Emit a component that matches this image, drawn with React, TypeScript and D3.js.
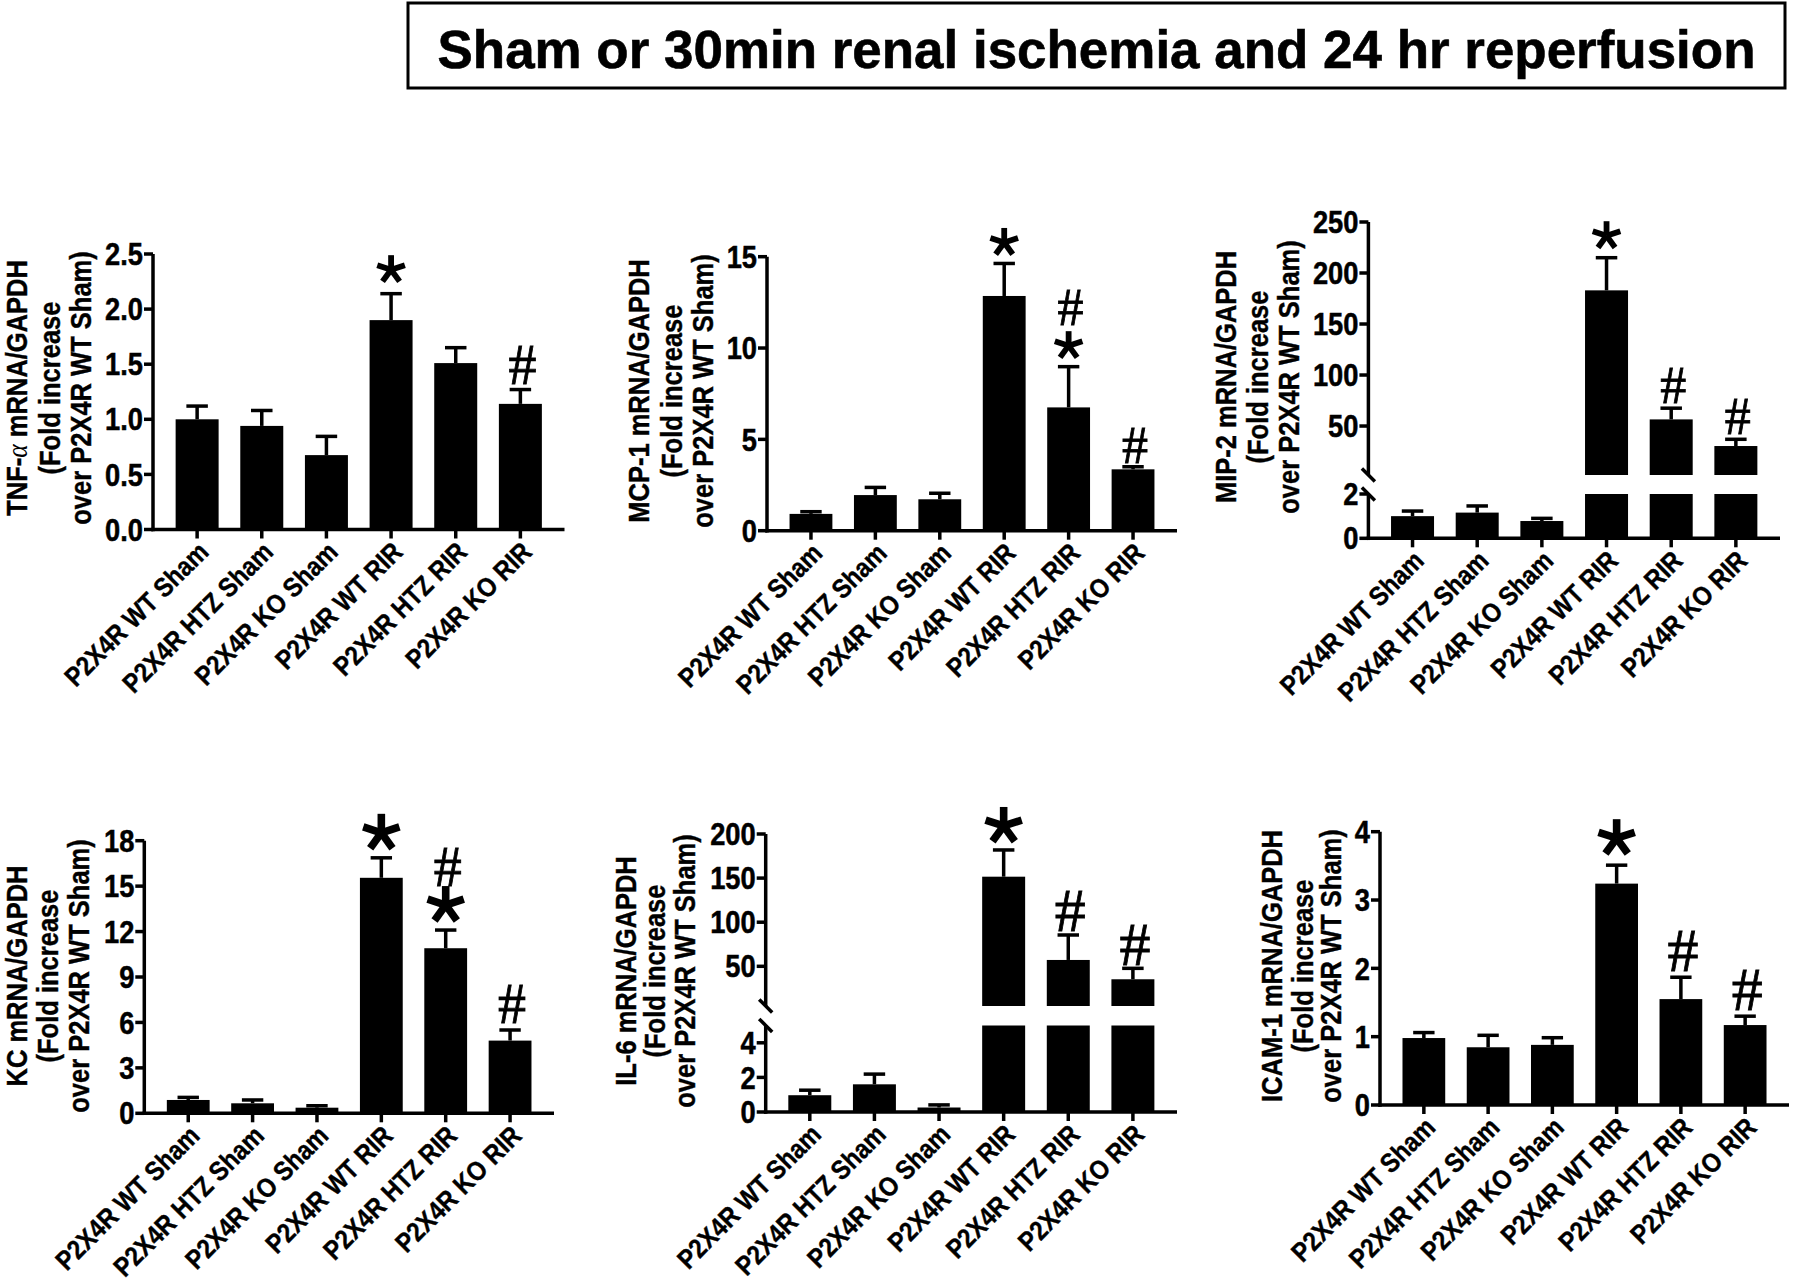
import React from 'react';
import * as d3 from 'd3';

const groups = ['P2X4R WT Sham', 'P2X4R HTZ Sham', 'P2X4R KO Sham', 'P2X4R WT RIR', 'P2X4R HTZ RIR', 'P2X4R KO RIR'];
const title = 'Sham or 30min renal ischemia and 24 hr reperfusion';
const labelTail = ['(Fold increase', 'over P2X4R WT Sham)'];

// TNF-alpha
const tnfMean = [1.0, 0.94, 0.675, 1.9, 1.51, 1.14];
const tnfSem = [0.12, 0.14, 0.17, 0.24, 0.14, 0.13];
const tnfMarks = [[], [], [], ['*'], [], ['#']];
const tnfTicks = [0, 0.5, 1, 1.5, 2, 2.5];

// MCP-1
const mcpMean = [0.92, 1.95, 1.72, 12.85, 6.75, 3.36];
const mcpSem = [0.12, 0.42, 0.33, 1.78, 2.23, 0.14];
const mcpMarks = [[], [], [], ['*'], ['*', '#'], ['#']];
const mcpTicks = [0, 5, 10, 15];

// MIP-2 (broken axis)
const mipMean = [1.0, 1.16, 0.78, 183, 56.5, 30.4];
const mipSem = [0.23, 0.3, 0.12, 32, 11, 6.6];
const mipMarks = [[], [], [], ['*'], ['#'], ['#']];
const mipTicksLow = [0, 2];
const mipTicksHigh = [50, 100, 150, 200, 250];

// KC
const kcMean = [0.88, 0.66, 0.37, 15.55, 10.9, 4.8];
const kcSem = [0.17, 0.22, 0.13, 1.32, 1.2, 0.7];
const kcMarks = [[], [], [], ['*'], ['*', '#'], ['#']];
const kcTicks = [0, 3, 6, 9, 12, 15, 18];

// IL-6 (broken axis)
const il6Mean = [0.97, 1.6, 0.26, 151.6, 57.2, 35.3];
const il6Sem = [0.29, 0.59, 0.15, 30.3, 28.3, 12.4];
const il6Marks = [[], [], [], ['*'], ['#'], ['#']];
const il6TicksLow = [0, 2, 4];
const il6TicksHigh = [50, 100, 150, 200];

// ICAM-1
const icamMean = [0.98, 0.845, 0.88, 3.24, 1.55, 1.17];
const icamSem = [0.08, 0.175, 0.105, 0.27, 0.32, 0.13];
const icamMarks = [[], [], [], ['*'], ['#'], ['#']];
const icamTicks = [0, 1, 2, 3, 4];

const SANS = '"Liberation Sans", Arial, Helvetica, sans-serif';
const SERIF = '"Liberation Serif", "Times New Roman", serif';
const SX = 0.88; // the figure uses a narrow bold face

const Star = ({ cx, cy, r }) => {
  const angles = [-90, -18, 54, 126, 198];
  return (
    <g stroke="#000" strokeWidth={r * 0.4}>
      {angles.map(a => (
        <line key={a} x1={cx} y1={cy}
          x2={cx + r * Math.cos(a * Math.PI / 180)}
          y2={cy + r * Math.sin(a * Math.PI / 180)} />
      ))}
    </g>
  );
};

const LabelText = ({ text }) => {
  const parts = text.split('α');
  return (
    <>
      {parts.map((p, i) => (
        <React.Fragment key={i}>
          {i > 0 && <tspan fontFamily={SERIF} fontStyle="italic" fontWeight="normal" strokeWidth={0}>α</tspan>}
          {p}
        </React.Fragment>
      ))}
    </>
  );
};

const Panel = ({ means, sems, marks, segments, x0, x1, label, labelX, labelMid, markGap, starR, hashSize, fmt }) => {
  const x = d3.scaleBand().domain(groups).range([x0, x1]).paddingInner(0.335).paddingOuter(0.35);
  const segs = segments.map(s => ({ ...s, y: d3.scaleLinear().domain(s.domain).range(s.range) }));
  const segFor = v => segs.find(s => v <= s.domain[1]) || segs[segs.length - 1];
  const base = segs[0].range[0];
  const bw = x.bandwidth();
  const lines = [label, ...labelTail];
  const tickFs = 31;
  const labFs = 29;

  return (
    <g fontFamily={SANS} fontWeight="bold" fill="#000">
      {/* bars, split across axis segments */}
      {segs.map((s, si) => groups.map((g, i) => {
        if (means[i] <= s.domain[0]) return null;
        const top = s.y(Math.min(means[i], s.domain[1]));
        const bot = s.y(s.domain[0]);
        return <rect key={`b${si}-${i}`} x={x(g)} y={top} width={bw} height={bot - top} fill="#000" />;
      }))}

      {/* error bars (upper only) and markers */}
      {groups.map((g, i) => {
        const s = segFor(means[i]);
        const cx = x(g) + bw / 2;
        const y1 = s.y(means[i]);
        const y2 = s.y(means[i] + sems[i]);
        return (
          <g key={`e${i}`}>
            <line x1={cx} x2={cx} y1={y1} y2={y2} stroke="#000" strokeWidth={3.5} />
            <line x1={cx - bw * 0.25} x2={cx + bw * 0.25} y1={y2} y2={y2} stroke="#000" strokeWidth={3.5} />
            {marks[i].map((m, k) => {
              const cy = y2 - markGap - k * 38;
              return m === '*'
                ? <Star key={k} cx={cx} cy={cy} r={starR} />
                : <text key={k} x={cx + 2} y={cy + hashSize * 0.33} textAnchor="middle" fontFamily={SERIF}
                    fontWeight="normal" fontSize={hashSize} stroke="#000" strokeWidth={0.8}>#</text>;
            })}
          </g>
        );
      })}

      {/* y axis segments */}
      {segs.map((s, si) => (
        <g key={`ax${si}`}>
          <line x1={x0} x2={x0} y1={si === 0 ? base + 1.75 : s.range[0]} y2={s.range[1]} stroke="#000" strokeWidth={3.5} />
          {s.ticks.map(t => (
            <g key={t}>
              <line x1={x0 - 9} x2={x0} y1={s.y(t)} y2={s.y(t)} stroke="#000" strokeWidth={3.5} />
              <text transform={`translate(${x0 - 10},${s.y(t) + tickFs * 0.36}) scale(${SX},1)`}
                textAnchor="end" fontSize={tickFs} stroke="#000" strokeWidth={0.5}>{d3.format(fmt)(t)}</text>
            </g>
          ))}
        </g>
      ))}

      {/* axis break marks */}
      {segs.length > 1 && [segs[1].range[0], segs[0].range[1]].map((yb, k) => (
        <line key={`br${k}`} x1={x0 - 6.5} x2={x0 + 6.5} y1={yb - 6.5} y2={yb + 6.5}
          stroke="#000" strokeWidth={3.5} />
      ))}

      {/* x axis */}
      <line x1={x0 - 1.75} x2={x1} y1={base} y2={base} stroke="#000" strokeWidth={3.5} />
      {groups.map(g => {
        const cx = x(g) + bw / 2;
        return (
          <g key={g}>
            <line x1={cx} x2={cx} y1={base} y2={base + 9} stroke="#000" strokeWidth={3.5} />
            <text transform={`translate(${cx + 13},${base + 24}) rotate(-45) scale(${SX},1)`}
              textAnchor="end" fontSize={27} stroke="#000" strokeWidth={0.4}>{g}</text>
          </g>
        );
      })}

      {/* y label */}
      {lines.map((l, j) => (
        <text key={j} transform={`translate(${labelX[j] + labFs * 0.36},${labelMid}) rotate(-90) scale(${SX},1)`}
          textAnchor="middle" fontSize={labFs} stroke="#000" strokeWidth={0.4}><LabelText text={l} /></text>
      ))}
    </g>
  );
};

const App = () => (
  <svg width={1800} height={1282} style={{ position: 'absolute', left: 0, top: 0, background: '#fff' }}>
    <rect x={408} y={3} width={1377} height={85} fill="#fff" stroke="#000" strokeWidth={3} />
    <text x={1096.5} y={68} textAnchor="middle" fontFamily={SANS} fontWeight="bold" fontSize={54}
      stroke="#000" strokeWidth={0.6} textLength={1318} lengthAdjust="spacingAndGlyphs">{title}</text>

    <Panel means={tnfMean} sems={tnfSem} marks={tnfMarks} x0={153} x1={564.5}
      segments={[{ domain: [0, 2.5], range: [529.5, 254], ticks: tnfTicks }]} fmt=".1f"
      label="TNF-α mRNA/GAPDH" labelX={[17, 49.5, 81]} labelMid={388} markGap={24} starR={14.5} hashSize={56} />

    <Panel means={mcpMean} sems={mcpSem} marks={mcpMarks} x0={767} x1={1177}
      segments={[{ domain: [0, 15], range: [530.7, 256.7], ticks: mcpTicks }]} fmt="d"
      label="MCP-1 mRNA/GAPDH" labelX={[639, 671.7, 702.3]} labelMid={391} markGap={21} starR={14.5} hashSize={52} />

    <Panel means={mipMean} sems={mipSem} marks={mipMarks} x0={1368.4} x1={1780}
      segments={[
        { domain: [0, 2], range: [538.3, 494], ticks: mipTicksLow },
        { domain: [2, 250], range: [475, 222], ticks: mipTicksHigh },
      ]} fmt="d"
      label="MIP-2 mRNA/GAPDH" labelX={[1225.8, 1258, 1289]} labelMid={377} markGap={22} starR={14.5} hashSize={52} />

    <Panel means={kcMean} sems={kcSem} marks={kcMarks} x0={144.3} x1={554}
      segments={[{ domain: [0, 18], range: [1113.3, 840.7], ticks: kcTicks }]} fmt="d"
      label="KC mRNA/GAPDH" labelX={[16.5, 48, 78.5]} labelMid={976} markGap={25} starR={19} hashSize={56} />

    <Panel means={il6Mean} sems={il6Sem} marks={il6Marks} x0={765.7} x1={1177}
      segments={[
        { domain: [0, 5], range: [1112, 1025.5], ticks: il6TicksLow },
        { domain: [5, 200], range: [1006, 834], ticks: il6TicksHigh },
      ]} fmt="d"
      label="IL-6 mRNA/GAPDH" labelX={[625.8, 654.5, 685]} labelMid={971} markGap={24} starR={19} hashSize={62} />

    <Panel means={icamMean} sems={icamSem} marks={icamMarks} x0={1380} x1={1789}
      segments={[{ domain: [0, 4], range: [1105, 831.7], ticks: icamTicks }]} fmt="d"
      label="ICAM-1 mRNA/GAPDH" labelX={[1271.7, 1302.3, 1331]} labelMid={966} markGap={27} starR={19} hashSize={62} />
  </svg>
);

export default App;
